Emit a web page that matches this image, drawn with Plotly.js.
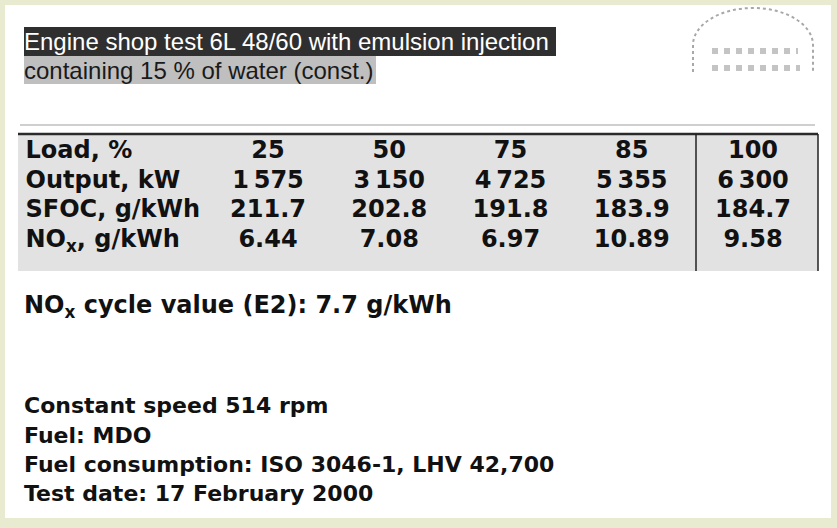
<!DOCTYPE html>
<html>
<head>
<meta charset="utf-8">
<script src="https://cdn.plot.ly/plotly-3.0.1.min.js"></script>
<style>html,body{margin:0;padding:0;background:#fff;}#chart{width:837px;height:528px;}</style>
</head>
<body>
<div id="chart"></div>
<script>
// ---- data ----
const titleLines = ['Engine shop test 6L 48/60 with emulsion injection', 'containing 15 % of water (const.)'];
const rowLabels = ['Load, %', 'Output, kW', 'SFOC, g/kWh', 'NO<sub>x</sub>, g/kWh'];
const loadPct = [25, 50, 75, 85, 100];
const outputKW = [1575, 3150, 4725, 5355, 6300];
const sfocGkWh = [211.7, 202.8, 191.8, 183.9, 184.7];
const noxGkWh = [6.44, 7.08, 6.97, 10.89, 9.58];
const noxCycleValue = 7.7;
const notes = ['Constant speed 514 rpm', 'Fuel: MDO', 'Fuel consumption: ISO 3046-1, LHV 42,700', 'Test date: 17 February 2000'];

// ---- layout constants ----
const W = 837, H = 528;
const colFirstPx = 268, colStepPx = 121.25;
const rowFirstPx = 152, rowStepPx = 29.5;
const ink = '#111111';
const tableFont = {family: 'DejaVu Sans', size: 24, color: ink, weight: 'bold'};

const thin = n => String(n).replace(/\B(?=(\d{3})+(?!\d))/g, '\u2009');
const rows = [
  loadPct.map(String),
  outputKW.map(thin),
  sfocGkWh.map(v => v.toFixed(1)),
  noxGkWh.map(v => v.toFixed(2))
];
const colIdx = loadPct.map((_, i) => i + 1);

const traces = rows.map((vals, r) => ({
  type: 'scatter', mode: 'text', xaxis: 'x2', yaxis: 'y2',
  x: colIdx, y: vals.map(() => r), text: vals,
  textposition: 'middle center', textfont: tableFont,
  hoverinfo: 'skip', showlegend: false, cliponaxis: false
}));
traces.push({
  type: 'scatter', mode: 'text', xaxis: 'x2', yaxis: 'y2',
  x: rowLabels.map(() => -1), y: rowLabels.map((_, r) => r), text: rowLabels,
  textposition: 'middle right', textfont: tableFont,
  hoverinfo: 'skip', showlegend: false, cliponaxis: false
});

const x2r0 = 1 - colFirstPx / colStepPx;
const y2top = -rowFirstPx / rowStepPx;

const tTop = 134, tBot = 271, tL = 18, tR = 818, divX = 696;
const shapes = [
  {type: 'rect', xref: 'x', yref: 'y', x0: 5, x1: 831, y0: 5, y1: 518, fillcolor: '#ffffff', line: {width: 0}, layer: 'below'},
  {type: 'rect', xref: 'x', yref: 'y', x0: tL, x1: tR, y0: tTop, y1: tBot, fillcolor: '#e2e2e2', line: {width: 0}, layer: 'below'},
  {type: 'line', xref: 'x', yref: 'y', x0: 20, x1: 815, y0: 125, y1: 125, line: {color: '#cfcfcf', width: 2}},
  {type: 'line', xref: 'x', yref: 'y', x0: tL, x1: tR, y0: tTop, y1: tTop, line: {color: '#2a2a2a', width: 2.5}},
  {type: 'line', xref: 'x', yref: 'y', x0: divX, x1: divX, y0: tTop, y1: tBot, line: {color: '#222', width: 1.5}},
  {type: 'line', xref: 'x', yref: 'y', x0: tR, x1: tR, y0: tTop, y1: tBot, line: {color: '#222', width: 1.5}},
  // logo (dotted arch)
  {type: 'path', xref: 'x', yref: 'y', path: 'M 693,72 L 693,45 C 693,24.6 719.9,8 753,8 C 786.1,8 813,24.6 813,45 L 813,72', line: {color: '#a8a8a8', width: 2, dash: 'dot'}},
  {type: 'line', xref: 'x', yref: 'y', x0: 712, x1: 798, y0: 51, y1: 51, line: {color: '#c4c4c4', width: 6, dash: 'dot'}},
  {type: 'line', xref: 'x', yref: 'y', x0: 712, x1: 800, y0: 68, y1: 68, line: {color: '#c4c4c4', width: 6, dash: 'dot'}}
];

const annotations = [
  {xref: 'x', yref: 'y', x: 24, y: 27, xanchor: 'left', yanchor: 'top', width: 532, height: 29, align: 'left', valign: 'middle',
   text: titleLines[0], showarrow: false, bgcolor: '#2f2f2f', borderpad: 0, borderwidth: 0,
   font: {family: 'Liberation Sans', size: 24, color: '#ffffff'}},
  {xref: 'x', yref: 'y', x: 24, y: 56, xanchor: 'left', yanchor: 'top', width: 352, height: 28, align: 'left', valign: 'middle',
   text: titleLines[1], showarrow: false, bgcolor: '#bfbfbf', borderpad: 0, borderwidth: 0,
   font: {family: 'Liberation Sans', size: 24, color: '#1a1a1a'}},
  {xref: 'x', yref: 'y', x: 22, y: 306, xanchor: 'left', yanchor: 'middle', showarrow: false,
   text: 'NO<sub>x</sub> cycle value (E2): ' + noxCycleValue.toFixed(1) + ' g/kWh',
   font: {family: 'DejaVu Sans', size: 24, color: ink, weight: 'bold'}}
];
const noteY = [405, 435, 464, 493];
notes.forEach((t, i) => annotations.push({
  xref: 'x', yref: 'y', x: 22, y: noteY[i], xanchor: 'left', yanchor: 'middle', showarrow: false, text: t,
  font: {family: 'DejaVu Sans', size: 22, color: ink, weight: 'bold'}
}));

const layout = {
  width: W, height: H, margin: {l: 0, r: 0, t: 0, b: 0, pad: 0},
  paper_bgcolor: '#e9ebd1', plot_bgcolor: 'rgba(0,0,0,0)', showlegend: false,
  xaxis: {range: [0, W], visible: false, fixedrange: true},
  yaxis: {range: [H, 0], visible: false, fixedrange: true},
  xaxis2: {range: [x2r0, x2r0 + W / colStepPx], overlaying: 'x', anchor: 'y2', visible: false, fixedrange: true},
  yaxis2: {range: [y2top + H / rowStepPx, y2top], overlaying: 'y', anchor: 'x2', visible: false, fixedrange: true},
  shapes: shapes, annotations: annotations
};

Plotly.newPlot('chart', traces, layout, {staticPlot: true, displayModeBar: false});
</script>
</body>
</html>
